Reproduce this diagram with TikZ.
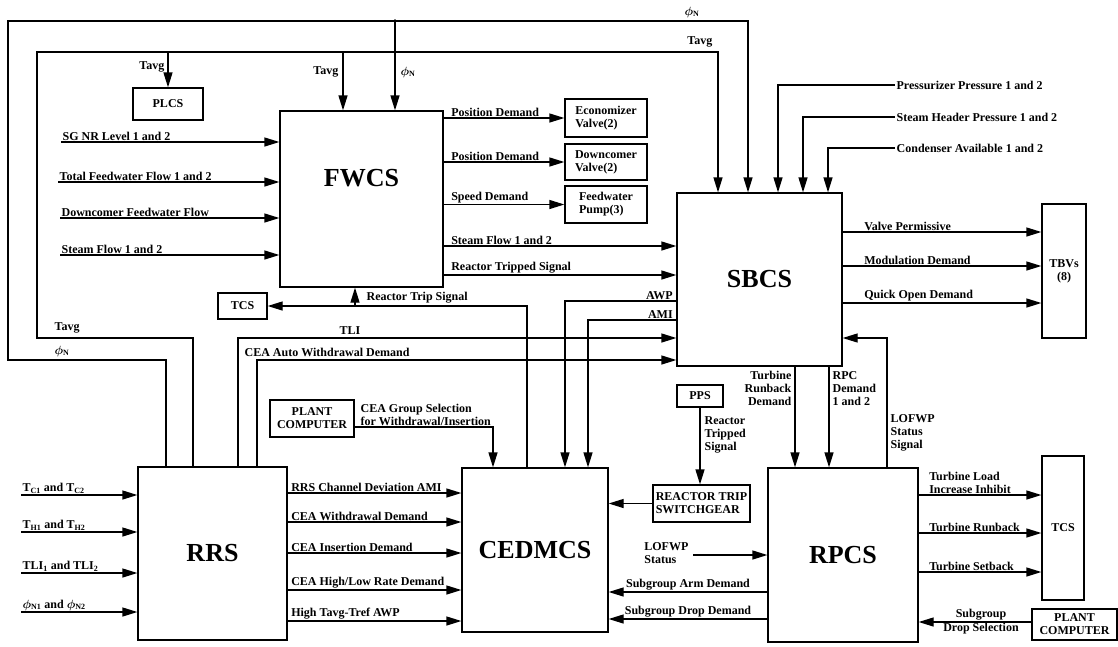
\documentclass[tikz,border=0pt]{standalone}
\usepackage{fontspec}
\setmainfont{Liberation Serif}
\usetikzlibrary{arrows.meta,positioning,calc}

\begin{document}
\begin{tikzpicture}[
    x=1pt, y=-1pt,
    line width=1.3pt,
    sysbox/.style={rectangle, draw, font=\fontsize{26}{28}\selectfont\bfseries},
    devbox/.style={rectangle, draw, font=\fontsize{12}{13}\selectfont\bfseries, align=center, inner sep=2pt},
    lbl/.style={font=\fontsize{12}{13}\selectfont\bfseries\boldmath, inner sep=1pt},
    arrow/.style={->, >={Triangle[length=15pt,width=9pt]}}
]
\useasboundingbox (0,0) rectangle (1118,646);

% main systems
\node[sysbox, minimum width=163pt, minimum height=176pt] (fwcs) at (361.5,199) {};
\node[font=\fontsize{26}{28}\selectfont\bfseries] (fwcsT) at (361.5,178) {FWCS};
\node[sysbox, minimum width=165pt, minimum height=173pt] (sbcs) at (759.5,279.5) {SBCS};
\node[sysbox, minimum width=149pt, minimum height=173pt] (rrs) at (212.5,553.5) {RRS};
\node[sysbox, minimum width=146pt, minimum height=164pt] (cedmcs) at (535,550) {CEDMCS};
\node[sysbox, minimum width=150pt, minimum height=174pt] (rpcs) at (843,555) {RPCS};

% other boxes
\node[devbox, minimum width=70pt, minimum height=32pt] (plcs) at (168,104) {PLCS};
\node[devbox, align=left, minimum width=82pt, minimum height=38pt] (econ) at (606,118) {Economizer\\Valve(2)};
\node[devbox, align=left, minimum width=82pt, minimum height=36pt] (dcv) at (606,162) {Downcomer\\Valve(2)};
\node[devbox, align=left, minimum width=82pt, minimum height=37pt] (fwp) at (606,204.5) {Feedwater\\Pump(3)};
\node[devbox, minimum width=44pt, minimum height=134pt] (tbv) at (1064,271) {TBVs\\(8)};
\node[devbox, minimum width=49pt, minimum height=26pt] (tcsL) at (242.5,306) {TCS};
\node[devbox, minimum width=42pt, minimum height=144pt] (tcsR) at (1063,528) {TCS};
\node[devbox, minimum width=84pt, minimum height=37pt] (pcL) at (312,418.5) {PLANT\\COMPUTER};
\node[devbox, minimum width=85pt, minimum height=31pt] (pcR) at (1074.5,624.5) {PLANT\\COMPUTER};
\node[devbox, minimum width=46pt, minimum height=22pt] (pps) at (700,396) {PPS};
\node[devbox, align=left, minimum width=97pt, minimum height=37pt] (rts) at (701.5,503.5) {REACTOR TRIP\\SWITCHGEAR};

% FWCS inputs
\coordinate (sgIn) at (61,142);
\coordinate (tfIn) at (58,182);
\coordinate (dfIn) at (60,218);
\coordinate (sfIn) at (60,255);
\draw[arrow] (sgIn) -- (sgIn -| fwcs.west) node[lbl, pos=0, anchor=south west] (lSG) {SG NR Level 1 and 2};
\draw[arrow] (tfIn) -- (tfIn -| fwcs.west) node[lbl, pos=0, anchor=south west] (lTF) {Total Feedwater Flow 1 and 2};
\draw[arrow] (dfIn) -- (dfIn -| fwcs.west) node[lbl, pos=0, anchor=south west] (lDF) {Downcomer Feedwater Flow};
\draw[arrow] (sfIn) -- (sfIn -| fwcs.west) node[lbl, pos=0, anchor=south west] (lSF) {Steam Flow 1 and 2};

% FWCS outputs
\draw[arrow] (fwcs.east |- econ.west) -- (econ.west) node[lbl, pos=0, anchor=south west, xshift=6pt] (lPD1) {Position Demand};
\draw[arrow] (fwcs.east |- dcv.west) -- (dcv.west) node[lbl, pos=0, anchor=south west, xshift=6pt] (lPD2) {Position Demand};
\draw[arrow] (fwcs.east |- fwp.west) -- (fwp.west) node[lbl, pos=0, anchor=south west, xshift=6pt] (lSD) {Speed Demand};
\draw[arrow] (fwcs.east |- 0,246) -- (sbcs.west |- 0,246) node[lbl, pos=0, anchor=south west, xshift=6pt] (lSF2) {Steam Flow 1 and 2};
\draw[arrow] (fwcs.east |- 0,275) -- (sbcs.west |- 0,275) node[lbl, pos=0, anchor=south west, xshift=6pt] (lRTS) {Reactor Tripped Signal};

% phi_N loop
\coordinate (phiJ) at (395,21);
\draw[arrow] (rrs.north -| 166,0) |- (8,360) |- (748,21) -- (sbcs.north -| 748,0);
\draw[arrow] (phiJ) -- (fwcs.north -| phiJ);
\fill (phiJ) circle (1.8pt);
\node[lbl, anchor=south] (phiA) at (692,19) {$\phi_{\mathrm{N}}$};
\node[lbl, anchor=west] (phiB) at (399,72) {$\phi_{\mathrm{N}}$};
\node[lbl, anchor=south west] (phiC) at (53,358) {$\phi_{\mathrm{N}}$};

% Tavg loop
\coordinate (tavJ1) at (plcs.north |- 0,52);
\coordinate (tavJ2) at (343,52);
\draw[arrow] (rrs.north -| 193,0) |- (37,338) |- (718,52) -- (sbcs.north -| 718,0);
\draw[arrow] (tavJ1) -- (plcs.north);
\draw[arrow] (tavJ2) -- (fwcs.north -| tavJ2);
\node[lbl, anchor=east] (tavA) at (166,67) {Tavg};
\node[lbl, anchor=east] (tavB) at (340,72) {Tavg};
\node[lbl, anchor=south east] (tavC) at (714,49) {Tavg};
\node[lbl, anchor=south west] (tavD) at (53,335) {Tavg};

% SBCS top inputs
\coordinate (ppIn) at (895,85);
\coordinate (shIn) at (895,117);
\coordinate (cdIn) at (895,148);
\draw[arrow] (ppIn) -| (sbcs.north -| 778,0) node[lbl, pos=0, anchor=west] (lPP) {Pressurizer Pressure 1 and 2};
\draw[arrow] (shIn) -| (sbcs.north -| 803,0) node[lbl, pos=0, anchor=west] (lSH) {Steam Header Pressure 1 and 2};
\draw[arrow] (cdIn) -| (sbcs.north -| 828,0) node[lbl, pos=0, anchor=west] (lCD) {Condenser Available 1 and 2};

% SBCS outputs
\draw[arrow] (sbcs.east |- 0,232) -- (tbv.west |- 0,232) node[lbl, pos=0, anchor=south west, xshift=20pt] (lVP) {Valve Permissive};
\draw[arrow] (sbcs.east |- 0,266) -- (tbv.west |- 0,266) node[lbl, pos=0, anchor=south west, xshift=20pt] (lMD) {Modulation Demand};
\draw[arrow] (sbcs.east |- 0,303) -- (tbv.west |- 0,303) node[lbl, pos=0, anchor=south west, xshift=20pt] (lQO) {Quick Open Demand};

% RRS to SBCS
\draw[arrow] (rrs.north -| 238,0) |- (sbcs.west |- 0,338);
\node[lbl, anchor=south] (lTLI) at (350,336) {TLI};
\draw[arrow] (rrs.north -| 257,0) |- (sbcs.west |- 0,360);
\node[lbl, anchor=south west] (lCAW) at (243,358) {CEA Auto Withdrawal Demand};

% SBCS to CEDMCS
\draw[arrow] (sbcs.west |- 0,301) -| (cedmcs.north -| 565,0) node[lbl, pos=0, anchor=south east, xshift=-2pt] (lAWP) {AWP};
\draw[arrow] (sbcs.west |- 0,320) -| (cedmcs.north -| 588,0) node[lbl, pos=0, anchor=south east, xshift=-2pt] (lAMI) {AMI};

% reactor trip signal
\coordinate (rtJ) at (355,306);
\draw[arrow] (cedmcs.north -| 527,0) |- (tcsL.east);
\draw[arrow] (rtJ) -- (fwcs.south -| rtJ);
\node[lbl, anchor=south west] (lRT) at (365,305) {Reactor Trip Signal};

% CEA group selection
\draw[arrow] (pcL.east |- 0,427) -| (cedmcs.north -| 493,0);
\node[lbl, anchor=south west, align=left] (lCGS) at (359,427) {CEA Group Selection\\for Withdrawal/Insertion};

% PPS and switchgear
\draw[arrow] (pps) -- (pps |- rts.north);
\node[lbl, anchor=north west, align=left] (lPPS) at (703,415) {Reactor\\Tripped\\Signal};
\draw[arrow] (rts.west) -- (cedmcs.east |- rts.west);

% RRS inputs
\coordinate (tcIn) at (21,495);
\coordinate (thIn) at (21,532);
\coordinate (tlIn) at (21,573);
\coordinate (pnIn) at (21,612);
\draw[arrow] (tcIn) -- (tcIn -| rrs.west) node[lbl, pos=0, anchor=south west] (lTC) {T\textsubscript{C1} and T\textsubscript{C2}};
\draw[arrow] (thIn) -- (thIn -| rrs.west) node[lbl, pos=0, anchor=south west] (lTH) {T\textsubscript{H1} and T\textsubscript{H2}};
\draw[arrow] (tlIn) -- (tlIn -| rrs.west) node[lbl, pos=0, anchor=south west] (lTL) {TLI\textsubscript{1} and TLI\textsubscript{2}};
\draw[arrow] (pnIn) -- (pnIn -| rrs.west) node[lbl, pos=0, anchor=south west] (lPN) {$\phi_{\mathrm{N1}}$ and $\phi_{\mathrm{N2}}$};

% RRS to CEDMCS
\draw[arrow] (rrs.east |- 0,493) -- (cedmcs.west |- 0,493) node[lbl, pos=0, anchor=south west, xshift=2pt] (lCD1) {RRS Channel Deviation AMI};
\draw[arrow] (rrs.east |- 0,522) -- (cedmcs.west |- 0,522) node[lbl, pos=0, anchor=south west, xshift=2pt] (lCD2) {CEA Withdrawal Demand};
\draw[arrow] (rrs.east |- 0,553) -- (cedmcs.west |- 0,553) node[lbl, pos=0, anchor=south west, xshift=2pt] (lCD3) {CEA Insertion Demand};
\draw[arrow] (rrs.east |- 0,590) -- (cedmcs.west |- 0,590) node[lbl, pos=0, anchor=south west, xshift=2pt] (lCD4) {CEA High/Low Rate Demand};
\draw[arrow] (rrs.east |- 0,621) -- (cedmcs.west |- 0,621) node[lbl, pos=0, anchor=south west, xshift=2pt] (lCD5) {High Tavg-Tref AWP};

% RPCS and CEDMCS
\coordinate (lofIn) at (693,555);
\draw[arrow] (lofIn) -- (rpcs.west |- lofIn);
\node[lbl, anchor=east, align=left] (lLOF) at (690,553) {LOFWP\\Status};
\draw[arrow] (rpcs.west |- 0,592) -- (cedmcs.east |- 0,592) node[lbl, midway, anchor=south] (lSAD) {Subgroup Arm Demand};
\draw[arrow] (rpcs.west |- 0,619) -- (cedmcs.east |- 0,619) node[lbl, midway, anchor=south] (lSDD) {Subgroup Drop Demand};

% SBCS and RPCS
\draw[arrow] (sbcs.south -| 795,0) -- (rpcs.north -| 795,0);
\node[lbl, anchor=north east, align=right] (lTRD) at (793,370) {Turbine\\Runback\\Demand};
\draw[arrow] (sbcs.south -| 829,0) -- (rpcs.north -| 829,0);
\node[lbl, anchor=north west, align=left] (lRPC) at (831,370) {RPC\\Demand\\1 and 2};
\draw[arrow] (rpcs.north -| 887,0) |- (sbcs.east |- 0,338);
\node[lbl, anchor=north west, align=left] (lLSS) at (889,413) {LOFWP\\Status\\Signal};

% RPCS outputs
\draw[arrow] (rpcs.east |- 0,495) -- (tcsR.west |- 0,495) node[lbl, pos=0, anchor=south west, xshift=9pt, align=left] (lTLI2) {Turbine Load\\Increase Inhibit};
\draw[arrow] (rpcs.east |- 0,533) -- (tcsR.west |- 0,533) node[lbl, pos=0, anchor=south west, xshift=9pt] (lTRB) {Turbine Runback};
\draw[arrow] (rpcs.east |- 0,572) -- (tcsR.west |- 0,572) node[lbl, pos=0, anchor=south west, xshift=9pt] (lTSB) {Turbine Setback};

% plant computer to RPCS
\draw[arrow] (pcR.west |- 0,622) -- (rpcs.east |- 0,622) node[lbl, midway, anchor=south, xshift=6pt] (lSGa) {Subgroup} node[lbl, midway, anchor=north, xshift=6pt] (lSGb) {Drop Selection};

\end{tikzpicture}
\end{document}
